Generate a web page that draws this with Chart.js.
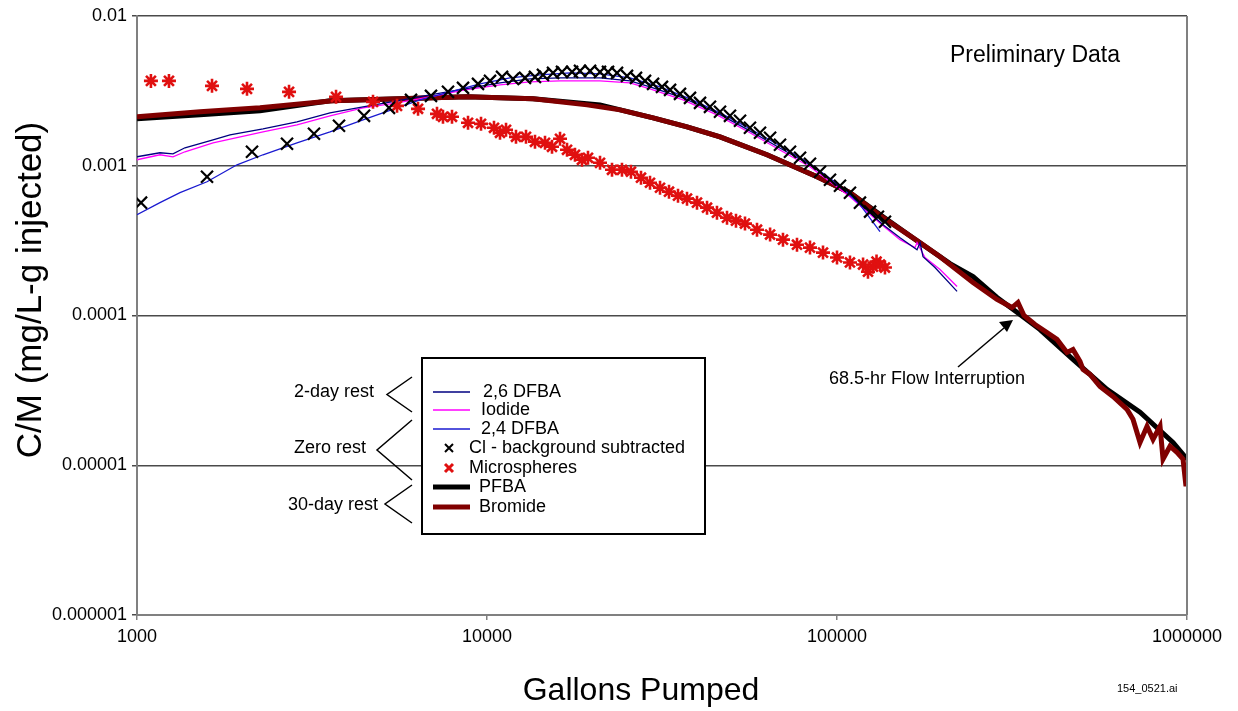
<!DOCTYPE html>
<html>
<head>
<meta charset="utf-8">
<script src="https://cdn.jsdelivr.net/npm/chart.js@4.4.0/dist/chart.umd.min.js"></script>
<style>
  html, body { margin: 0; padding: 0; background: #fff; }
  canvas { display: block; }
</style>
</head>
<body>
<canvas id="chart" width="1238" height="711"></canvas>
<script>
// axis ticks
const xTickValues = [1000, 10000, 100000, 1000000];
const xTickLabels = ['1000', '10000', '100000', '1000000'];
const yTickValues = [0.000001, 0.00001, 0.0001, 0.001, 0.01];
const yTickLabels = ['0.000001', '0.00001', '0.0001', '0.001', '0.01'];

// 2-day rest
const dfba26X = [1000, 1163, 1267, 1371, 1649, 1844, 2291, 2865, 3560, 4423, 5533, 6873, 8653, 10890, 13270, 16170, 21030, 25620, 29220, 36310, 45400, 56410, 70090, 83720, 108900, 135400, 151400, 169300, 172700, 176100, 190500, 220300];
const dfba26Y = [0.001148, 0.001221, 0.001202, 0.001318, 0.001491, 0.001609, 0.001765, 0.001965, 0.002256, 0.002474, 0.002712, 0.002972, 0.003262, 0.003575, 0.003802, 0.003861, 0.003861, 0.003687, 0.003363, 0.00284, 0.002256, 0.001711, 0.001278, 0.001015, 0.000641, 0.000404, 0.000331, 0.000275, 0.000307, 0.000247, 0.000209, 0.000145];
const iodideX = [1000, 1163, 1267, 1371, 1649, 2291, 2865, 3560, 4423, 5533, 6873, 8653, 10890, 13270, 16170, 21030, 25620, 29220, 36310, 45400, 56410, 70090, 83720, 108900, 135400, 151400, 167100, 169300, 178400, 197000, 220300];
const iodideY = [0.001096, 0.001184, 0.001148, 0.00124, 0.001422, 0.001685, 0.001876, 0.002154, 0.002436, 0.00263, 0.002884, 0.003212, 0.003467, 0.003631, 0.003687, 0.003687, 0.003575, 0.003262, 0.002754, 0.002188, 0.00166, 0.00124, 0.000985, 0.000621, 0.000398, 0.000321, 0.000284, 0.000307, 0.000244, 0.000203, 0.000156];

// zero rest
const dfba24X = [1000, 1163, 1327, 1585, 1931, 2291, 2865, 3560, 4423, 5533, 6439, 7842, 9550, 11630, 14170, 17270, 21030, 25620, 31210, 38020, 46320, 56410, 68730, 83720, 102000, 116300, 132700];
const dfba24Y = [0.000471, 0.000567, 0.000661, 0.000782, 0.001015, 0.001184, 0.001422, 0.001685, 0.002026, 0.002436, 0.002754, 0.003115, 0.003522, 0.003861, 0.004043, 0.004169, 0.004105, 0.003861, 0.003363, 0.002797, 0.002256, 0.001765, 0.00136, 0.00103, 0.000736, 0.00055, 0.000363];
const clX = [1027, 1585, 2131, 2683, 3204, 3777, 4453, 5248, 6066, 6918, 7737, 8540, 9426, 10200, 11040, 11870, 12840, 13710, 14450, 15440, 16380, 17500, 18440, 19700, 21030, 22170, 23520, 25120, 26650, 28280, 29820, 31620, 33350, 35600, 38020, 40610, 43360, 46320, 49460, 52840, 56410, 60260, 64390, 68730, 73400, 78420, 83720, 89420, 95500, 102000, 108900, 116300, 124300, 130900, 137100];
const clY = [0.000567, 0.000845, 0.00124, 0.001402, 0.001634, 0.001848, 0.002154, 0.002436, 0.002754, 0.002929, 0.003115, 0.003311, 0.003522, 0.003687, 0.00392, 0.003802, 0.003861, 0.00392, 0.004043, 0.004169, 0.004233, 0.004233, 0.004299, 0.004299, 0.004233, 0.004233, 0.004169, 0.003981, 0.003861, 0.003687, 0.003522, 0.003363, 0.003212, 0.00302, 0.00284, 0.00263, 0.002474, 0.002291, 0.002154, 0.001995, 0.001792, 0.00166, 0.001537, 0.00138, 0.00124, 0.00113, 0.00103, 0.000912, 0.000807, 0.000736, 0.000661, 0.000567, 0.000494, 0.000457, 0.000423];
const microX = [1096, 1234, 1638, 2062, 2719, 3704, 4724, 5533, 6353, 7197, 7486, 7943, 8826, 9614, 10471, 10893, 11333, 12101, 12925, 13712, 14646, 15337, 16167, 16929, 17838, 18678, 19433, 21033, 22758, 24300, 25780, 27542, 29224, 31215, 33113, 35134, 37276, 39811, 42525, 45400, 48500, 51450, 54590, 59080, 64390, 70090, 76860, 83720, 91200, 100000, 108900, 118700, 122600, 126700, 129700, 132700, 137100];
const microY = [0.003687, 0.003687, 0.003415, 0.003262, 0.003115, 0.002884, 0.002671, 0.002512, 0.002399, 0.002222, 0.002122, 0.002122, 0.001935, 0.001905, 0.001792, 0.00166, 0.001738, 0.00156, 0.00156, 0.001445, 0.001422, 0.001338, 0.001514, 0.001278, 0.001184, 0.001096, 0.00113, 0.001047, 0.00094, 0.00094, 0.000912, 0.000832, 0.00077, 0.000713, 0.000671, 0.000631, 0.000603, 0.000567, 0.000525, 0.000486, 0.00045, 0.00043, 0.000411, 0.000374, 0.000347, 0.000321, 0.000297, 0.000284, 0.000263, 0.000244, 0.000226, 0.000219, 0.000196, 0.000212, 0.000229, 0.000219, 0.000209];

// 30-day rest
const pfbaX = [1000, 1514, 2246, 3560, 5643, 8767, 13530, 21030, 29820, 37280, 46320, 63100, 87700, 108900, 135400, 169300, 210300, 244700, 286500, 326800, 380200, 472300, 590600, 734100, 912000, 1000000];
const pfbaY = [0.002057, 0.002188, 0.002326, 0.002712, 0.002797, 0.002884, 0.002797, 0.00255, 0.002089, 0.00182, 0.00156, 0.001184, 0.000845, 0.000661, 0.000457, 0.000316, 0.000222, 0.000182, 0.000132, 0.000105, 0.0000806, 0.0000509, 0.0000321, 0.0000226, 0.0000142, 0.000011];
const bromideX = [1000, 1514, 2246, 3631, 5643, 8767, 13530, 19310, 23990, 29820, 37280, 46320, 63100, 87700, 108900, 135400, 169300, 197000, 244700, 286500, 316200, 328900, 342100, 367900, 398100, 425200, 454000, 472300, 494600, 504500, 528300, 564100, 614500, 674100, 701000, 734100, 768800, 799800, 837400, 854100, 894200, 936300, 974100, 993400, 1000000];
const bromideY = [0.002122, 0.002291, 0.002436, 0.002712, 0.002797, 0.002884, 0.002797, 0.00255, 0.002362, 0.002089, 0.00182, 0.00156, 0.001184, 0.000845, 0.000661, 0.00045, 0.000316, 0.000247, 0.000166, 0.000128, 0.000113, 0.000122, 0.0001, 0.0000871, 0.000077, 0.0000692, 0.0000567, 0.0000593, 0.0000494, 0.0000437, 0.0000404, 0.0000336, 0.0000288, 0.0000236, 0.0000203, 0.0000142, 0.0000182, 0.0000149, 0.0000182, 0.000011, 0.0000134, 0.0000122, 0.000011, 0.00000724, 0.00000898];

const FONT = '"Liberation Sans", Arial, sans-serif';
Chart.defaults.font.family = FONT;
Chart.defaults.color = '#000';

function pts(xs, ys) {
  return xs.map((x, i) => ({ x: x, y: ys[i] }));
}

function lineSet(label, xs, ys, color, width, order) {
  return {
    label, data: pts(xs, ys), showLine: true, borderColor: color, backgroundColor: color,
    borderWidth: width, pointRadius: 0, tension: 0, order
  };
}

function markerSet(label, xs, ys, color, style, radius, width, order) {
  return {
    label, data: pts(xs, ys), showLine: false, pointStyle: style, pointRadius: radius,
    pointBorderColor: color, pointBackgroundColor: color, pointBorderWidth: width, order
  };
}

const datasets = [
  lineSet('2,6 DFBA', dfba26X, dfba26Y, '#000080', 1.3, 4),
  lineSet('Iodide', iodideX, iodideY, '#ff00ff', 1.3, 5),
  lineSet('2,4 DFBA', dfba24X, dfba24Y, '#1a1ad0', 1.3, 3),
  markerSet('Cl - background subtracted', clX, clY, '#000', 'crossRot', 8.5, 2.2, 1),
  markerSet('Microspheres', microX, microY, '#e01010', 'star', 7, 2.6, 2),
  lineSet('PFBA', pfbaX, pfbaY, '#000', 5, 7),
  lineSet('Bromide', bromideX, bromideY, '#800000', 5, 6)
];

// legend, brackets, notes drawn on top
const overlay = {
  id: 'overlay',
  afterDraw(chart) {
    const ctx = chart.ctx, a = chart.chartArea;
    ctx.save();
    // right frame line
    ctx.strokeStyle = '#808080';
    ctx.lineWidth = 2;
    ctx.beginPath();
    ctx.moveTo(a.right, a.top);
    ctx.lineTo(a.right, a.bottom);
    ctx.stroke();

    ctx.fillStyle = '#000';
    ctx.textBaseline = 'middle';

    // axis titles
    ctx.font = '35px ' + FONT;
    ctx.save();
    ctx.translate(31, 290);
    ctx.rotate(-Math.PI / 2);
    ctx.textAlign = 'center';
    ctx.fillText('C/M (mg/L-g injected)', 0, 0);
    ctx.restore();
    ctx.font = '32px ' + FONT;
    ctx.textAlign = 'center';
    ctx.fillText('Gallons Pumped', 641, 691);
    ctx.font = '11px ' + FONT;
    ctx.textAlign = 'left';
    ctx.fillText('154_0521.ai', 1117, 689);

    ctx.font = '23px ' + FONT;
    ctx.fillText('Preliminary Data', 950, 56);

    // flow interruption note
    ctx.font = '18px ' + FONT;
    ctx.fillText('68.5-hr Flow Interruption', 829, 379);
    ctx.strokeStyle = '#000';
    ctx.lineWidth = 1.5;
    ctx.beginPath();
    ctx.moveTo(958, 367);
    ctx.lineTo(1004, 328);
    ctx.stroke();
    ctx.beginPath();
    ctx.moveTo(1013, 320);
    ctx.lineTo(999, 322);
    ctx.lineTo(1007, 332);
    ctx.closePath();
    ctx.fill();

    // legend box
    ctx.fillStyle = '#fff';
    ctx.fillRect(422, 358, 283, 176);
    ctx.strokeStyle = '#000';
    ctx.lineWidth = 2;
    ctx.strokeRect(422, 358, 283, 176);

    const rows = [392, 410, 429, 448, 468, 487, 507];
    const textX = [483, 481, 481, 469, 469, 479, 479];
    ctx.font = '18px ' + FONT;
    datasets.forEach((ds, i) => {
      const y = rows[i];
      if (ds.showLine) {
        ctx.strokeStyle = ds.borderColor;
        ctx.lineWidth = ds.borderWidth;
        ctx.beginPath();
        ctx.moveTo(433, y);
        ctx.lineTo(470, y);
        ctx.stroke();
      } else {
        ctx.strokeStyle = ds.pointBorderColor;
        ctx.lineWidth = i === 4 ? 3 : 2;
        const r = 4;
        ctx.beginPath();
        ctx.moveTo(449 - r, y - r); ctx.lineTo(449 + r, y + r);
        ctx.moveTo(449 - r, y + r); ctx.lineTo(449 + r, y - r);
        ctx.stroke();
      }
      ctx.fillStyle = '#000';
      ctx.fillText(ds.label, textX[i], y);
    });

    // rest-period brackets
    ctx.textAlign = 'right';
    ctx.fillText('2-day rest', 374, 392);
    ctx.fillText('Zero rest', 366, 448);
    ctx.fillText('30-day rest', 378, 505);
    ctx.strokeStyle = '#000';
    ctx.lineWidth = 1.5;
    [[377, 387, 412], [420, 377, 480], [485, 385, 523]].forEach(([t, vx, b]) => {
      ctx.beginPath();
      ctx.moveTo(412, t);
      ctx.lineTo(vx, (t + b) / 2);
      ctx.lineTo(412, b);
      ctx.stroke();
    });
    ctx.restore();
  }
};

new Chart(document.getElementById('chart'), {
  type: 'scatter',
  data: { datasets },
  options: {
    responsive: false,
    animation: false,
    devicePixelRatio: 1,
    layout: { padding: { left: 0, right: 51, top: 16, bottom: 0 } },
    plugins: { legend: { display: false }, tooltip: { enabled: false } },
    scales: {
      x: {
        type: 'logarithmic',
        min: 1000,
        max: 1000000,
        afterBuildTicks: s => { s.ticks = xTickValues.map(v => ({ value: v })); },
        afterFit: s => { s.height = 96; },
        ticks: {
          autoSkip: false, maxRotation: 0, padding: 6,
          font: { size: 18 },
          callback: (v, i) => xTickLabels[i]
        },
        grid: { drawOnChartArea: false, tickLength: 5, color: '#808080', lineWidth: 1.5 },
        border: { color: '#808080', width: 2 }
      },
      y: {
        type: 'logarithmic',
        min: 0.000001,
        max: 0.01,
        afterBuildTicks: s => { s.ticks = yTickValues.map(v => ({ value: v })); },
        afterFit: s => { s.width = 137; },
        ticks: {
          autoSkip: false, padding: 5,
          font: { size: 18 },
          callback: (v, i) => yTickLabels[i]
        },
        grid: { color: '#4a4a4a', lineWidth: 1.5, tickLength: 5 },
        border: { color: '#808080', width: 2 }
      }
    }
  },
  plugins: [overlay]
});
</script>
</body>
</html>
